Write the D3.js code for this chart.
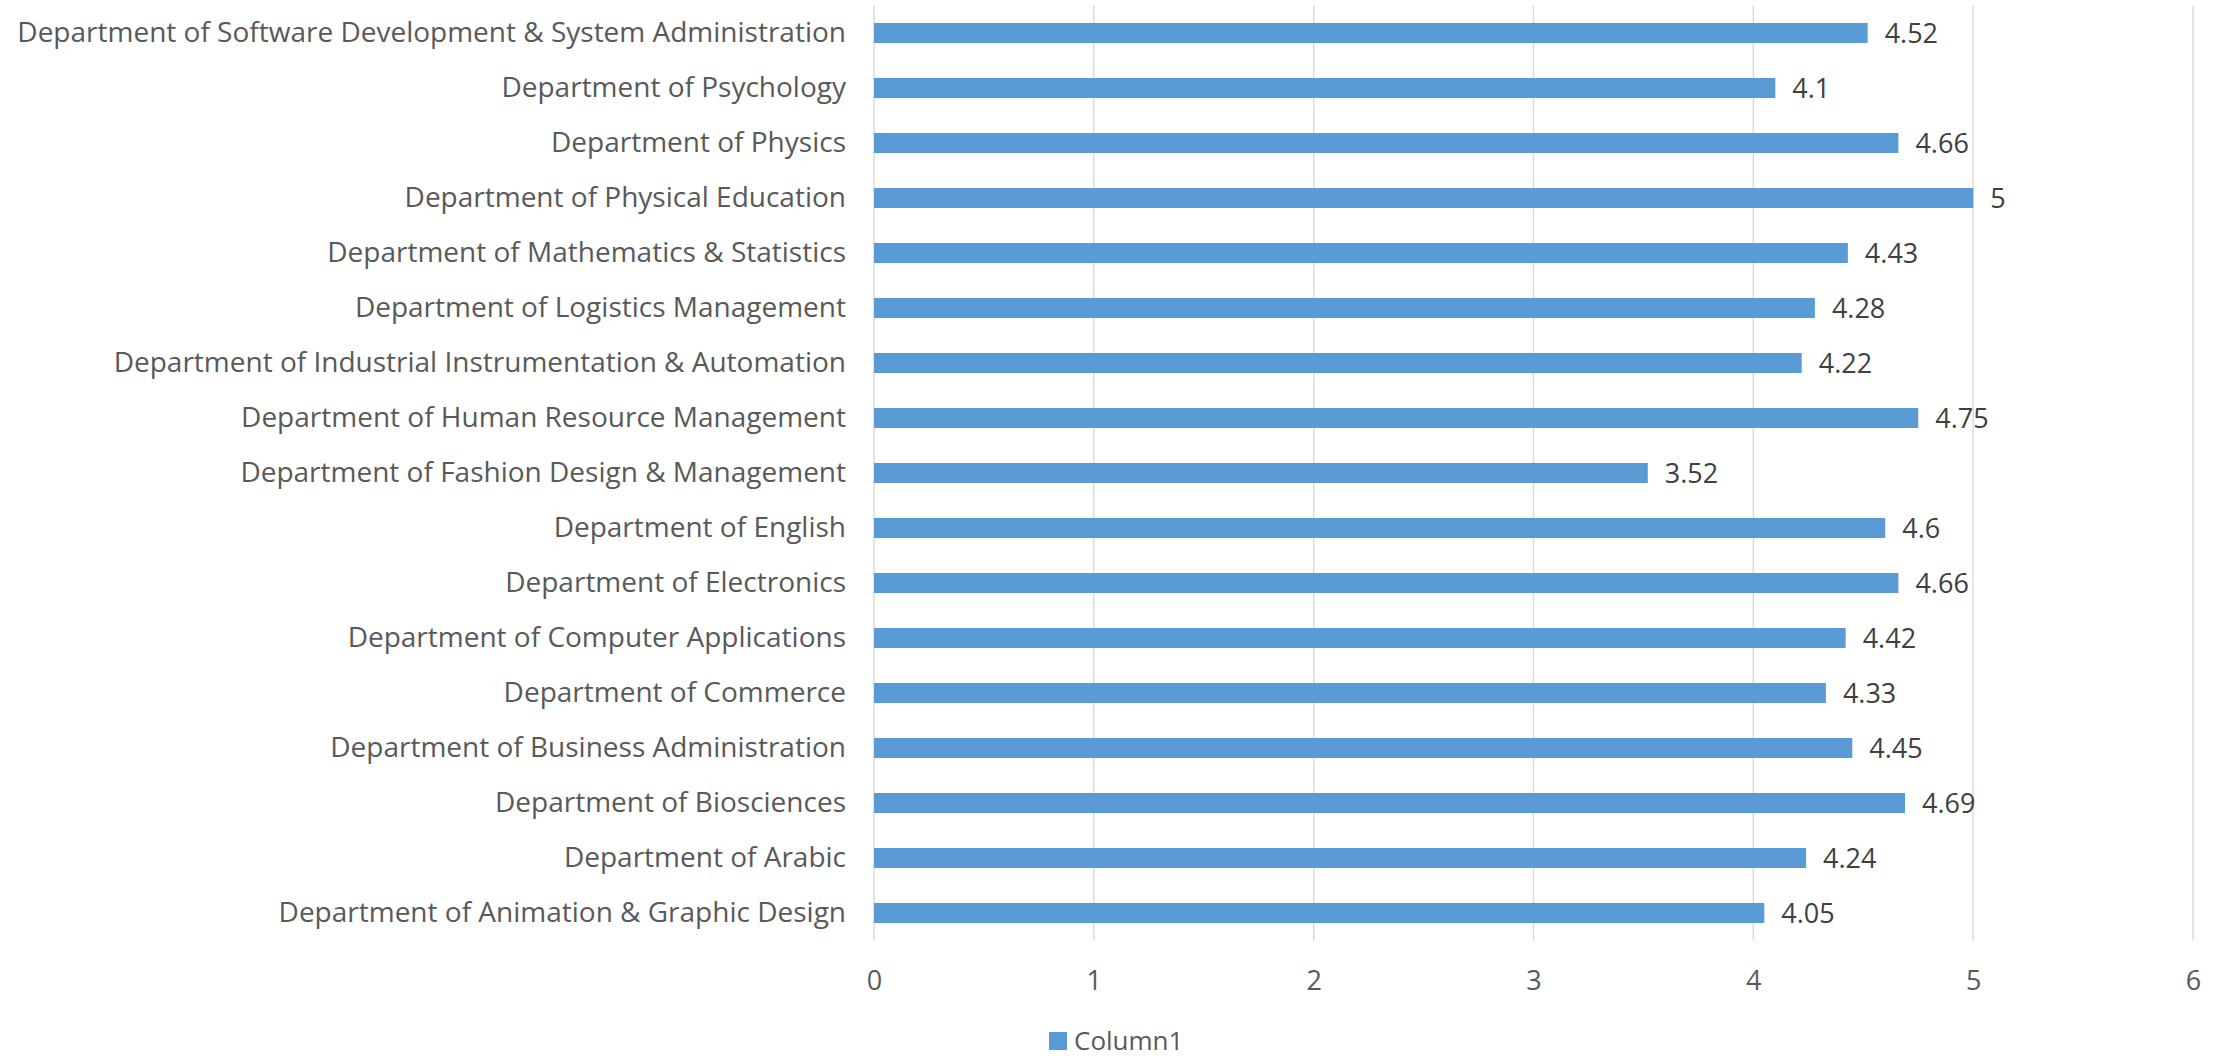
<!DOCTYPE html>
<html>
<head>
<meta charset="utf-8">
<script src="https://cdn.jsdelivr.net/npm/d3@7"></script>
<style>
  html, body { margin: 0; padding: 0; background: #ffffff; }
  svg { display: block; }
  text { font-family: "Open Sans", Lato, sans-serif; fill: #595959; }
</style>
</head>
<body>
<svg id="chart" width="2221" height="1058"></svg>
<script>
const categories = [
  "Department of Software Development & System Administration",
  "Department of Psychology",
  "Department of Physics",
  "Department of Physical Education",
  "Department of Mathematics & Statistics",
  "Department of Logistics Management",
  "Department of Industrial Instrumentation & Automation",
  "Department of Human Resource Management",
  "Department of Fashion Design & Management",
  "Department of English",
  "Department of Electronics",
  "Department of Computer Applications",
  "Department of Commerce",
  "Department of Business Administration",
  "Department of Biosciences",
  "Department of Arabic",
  "Department of Animation & Graphic Design"
];
const values = [4.52, 4.1, 4.66, 5, 4.43, 4.28, 4.22, 4.75, 3.52, 4.6, 4.66, 4.42, 4.33, 4.45, 4.69, 4.24, 4.05];
const tickValues = [0, 1, 2, 3, 4, 5, 6];
const seriesName = "Column1";

const FONT = '"Open Sans", Lato, sans-serif';
const FS = 28;
const FS_VAL = 27;

const svg = d3.select("#chart");
const plotLeft = 874, plotRight = 2193, plotTop = 5.5, plotBottom = 940.5;

const x = d3.scaleLinear().domain([0, 6]).range([plotLeft, plotRight]);
const y = d3.scaleBand().domain(categories).range([plotTop, plotBottom]).paddingInner(0.636).paddingOuter(0.318);

// gridlines
svg.append("g").selectAll("line").data(tickValues).join("line")
  .attr("x1", d => x(d)).attr("x2", d => x(d))
  .attr("y1", plotTop).attr("y2", plotBottom)
  .attr("stroke", "#d9d9d9").attr("stroke-width", 1.4);

// bars
svg.append("g").selectAll("rect").data(values).join("rect")
  .attr("x", x(0))
  .attr("y", (d, i) => y(categories[i]))
  .attr("width", d => x(d) - x(0))
  .attr("height", y.bandwidth())
  .attr("fill", "#5b9bd5");

// value labels
svg.append("g").selectAll("text").data(values).join("text")
  .attr("x", d => x(d) + 17)
  .attr("y", (d, i) => y(categories[i]) + y.bandwidth() / 2)
  .attr("dy", "0.36em")
  .attr("font-size", FS_VAL)
  .style("font-family", FONT)
  .style("fill", "#404040")
  .text(d => String(d));

// category axis labels
const yAxis = d3.axisLeft(y).tickSize(0).tickPadding(28);
const gy = svg.append("g").attr("transform", `translate(${plotLeft},0)`).call(yAxis);
gy.select(".domain").remove();
gy.selectAll("text").attr("font-size", FS).style("fill", "#595959")
  .style("font-family", FONT);

// x axis labels
const xAxis = d3.axisBottom(x).tickValues(tickValues).tickSize(0).tickPadding(30).tickFormat(d3.format("d"));
const gx = svg.append("g").attr("transform", `translate(0,${plotBottom})`).call(xAxis);
gx.select(".domain").remove();
gx.selectAll("text").attr("font-size", FS_VAL).style("fill", "#595959")
  .style("font-family", FONT);

// legend
const lg = svg.append("g").attr("transform", "translate(1049,1032)");
lg.append("rect").attr("width", 18).attr("height", 18).attr("fill", "#5b9bd5");
lg.append("text").attr("x", 25).attr("y", 9).attr("dy", "0.34em")
  .attr("font-size", 26).style("font-family", FONT).style("fill", "#595959").text(seriesName);
</script>
</body>
</html>
